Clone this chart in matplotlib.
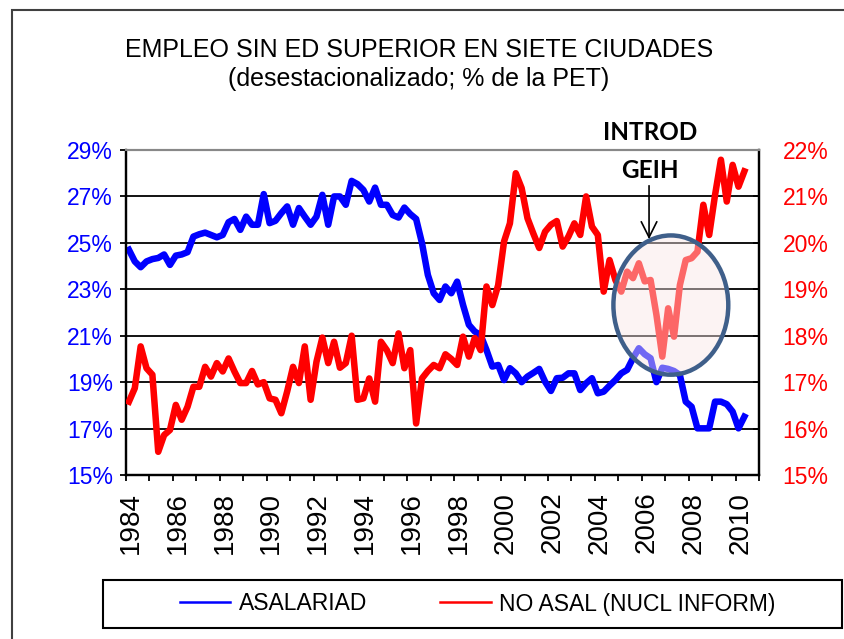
import numpy as np
import matplotlib
matplotlib.use("Agg")
import matplotlib.pyplot as plt
from matplotlib.patches import Ellipse, Rectangle
from matplotlib.lines import Line2D

plt.rcParams['font.family'] = ['Liberation Sans', 'DejaVu Sans']

# ---------------- data (quarterly, 1984Q1 .. 2010Q2) ----------------
start_year = 1984
asalariad = [
    24.7, 24.2, 23.95, 24.2, 24.3, 24.35, 24.5, 24.05, 24.45, 24.5,
    24.6, 25.27, 25.37, 25.44, 25.34, 25.24, 25.34, 25.89, 26.03, 25.56,
    26.13, 25.78, 25.78, 27.1, 25.85, 25.95, 26.28, 26.57, 25.78, 26.5,
    26.13, 25.78, 26.13, 27.07, 25.78, 27.0, 27.0, 26.64, 27.67, 27.53,
    27.28, 26.78, 27.38, 26.64, 26.64, 26.2, 26.09, 26.52, 26.24, 26.03,
    24.99, 23.62, 22.83, 22.54, 23.12, 22.83, 23.33, 22.33, 21.47, 21.18,
    21.03, 20.39, 19.67, 19.74, 19.09, 19.6, 19.38, 19.0, 19.24, 19.4,
    19.57, 19.02, 18.62, 19.17, 19.19, 19.38, 19.38, 18.66, 18.95, 19.17,
    18.52, 18.59, 18.85, 19.09, 19.38, 19.53, 20.03, 20.46, 20.2, 20.03,
    19.0, 19.62, 19.57, 19.48, 19.31, 18.16, 17.94, 17.01, 17.01, 17.01,
    18.16, 18.16, 18.05, 17.73, 17.01, 17.51]
no_asal = [
    16.58, 16.87, 17.77, 17.3, 17.16, 15.5, 15.86, 15.97, 16.51, 16.19,
    16.47, 16.9, 16.9, 17.33, 17.12, 17.41, 17.23, 17.51, 17.23, 16.98,
    16.98, 17.24, 16.95, 17.0, 16.65, 16.62, 16.33, 16.8, 17.33, 16.98,
    17.77, 16.62, 17.44, 17.96, 17.41, 17.87, 17.31, 17.41, 18.0, 16.62,
    16.65, 17.08, 16.58, 17.87, 17.69, 17.41, 18.05, 17.3, 17.69, 16.11,
    17.08, 17.24, 17.37, 17.3, 17.6, 17.5, 17.37, 17.98, 17.55, 17.95,
    17.69, 19.06, 18.66, 19.09, 20.03, 20.42, 21.5, 21.18, 20.53, 20.2,
    19.89, 20.24, 20.39, 20.47, 19.92, 20.14, 20.42, 20.17, 21.0, 20.35,
    20.17, 18.95, 19.63, 19.2, 18.95, 19.38, 19.24, 19.56, 19.17, 19.2,
    18.45, 17.55, 18.59, 17.98, 19.09, 19.63, 19.67, 19.81, 20.82, 20.17,
    21.03, 21.79, 20.89, 21.68, 21.21, 21.54]
year_labels = list(range(1984, 2011, 2))
left_ticks = list(range(15, 30, 2))
right_ticks = list(range(15, 23))
series_names = ['ASALARIAD', 'NO ASAL (NUCL INFORM)']
title_lines = ['EMPLEO SIN ED SUPERIOR EN SIETE CIUDADES',
               '(desestacionalizado; % de la PET)']

BLUE = '#0000ff'
RED = '#ff0000'

W, H = 844, 639
fig = plt.figure(figsize=(W / 100, H / 100), dpi=100)

def fx(px):
    return px / W

def fy(py):
    return 1 - py / H

ax_l, ax_r, ax_t, ax_b = 126, 759, 150, 475
ax = fig.add_axes([fx(ax_l), fy(ax_b), (ax_r - ax_l) / W, (ax_b - ax_t) / H])
ax2 = ax.twinx()

x = start_year + (np.arange(len(asalariad)) + 0.5) / 4.0

ax.plot(x, asalariad, color=BLUE, lw=4.7, solid_joinstyle='round', zorder=3)
ax2.plot(x, no_asal, color=RED, lw=4.7, solid_joinstyle='round', zorder=3)

ax.set_xlim(1984, 2011)
ax.set_ylim(15, 29)
ax2.set_ylim(15, 22)

# grid
ax.set_yticks(left_ticks)
ax.set_yticklabels([f'{v}%' for v in left_ticks], color=BLUE, fontsize=16.5)
ax.yaxis.grid(True, color='black', lw=1.3)
ax.set_axisbelow(True)
gl = ax.get_ygridlines()
gl[-1].set_color('#888888')
ax.tick_params(axis='y', direction='out', length=4.3, width=1.3, pad=5)

ax2.set_yticks(right_ticks)
ax2.set_yticklabels([f'{v}%' for v in right_ticks], color=RED, fontsize=16.5)
ax2.tick_params(axis='y', direction='in', length=4, width=1.3, pad=17)

ax.set_xticks(np.arange(1984, 2012), minor=True)
ax.set_xticks(np.array(year_labels) + 0.2)
ax.set_xticklabels([str(y) for y in year_labels], rotation=90, fontsize=20)
ax.tick_params(axis='x', which='major', length=0, pad=12)
ax.tick_params(axis='x', which='minor', direction='out', length=4.5, width=1.3)

for a in (ax, ax2):
    a.spines['left'].set_linewidth(1.6)
    a.spines['bottom'].set_linewidth(1.6)
    a.spines['right'].set_linewidth(1.6)
    a.spines['top'].set_color('#888888')
    a.spines['top'].set_linewidth(1.5)

# ellipse highlighting the GEIH introduction
ell = Ellipse((2007.24, 18.66), 4.9, 3.0, facecolor=(0.98, 0.9, 0.9, 0.45),
              edgecolor='#3f5f8a', lw=3.2, zorder=5)
ax2.add_patch(ell)
ax2.annotate('', xy=(2006.31, 20.02), xytext=(2006.31, 21.29),
             arrowprops=dict(arrowstyle='->', color='black', lw=1.2,
                             mutation_scale=28), zorder=6)
fig.text(fx(650), fy(133), 'INTROD', ha='center', va='center',
         fontsize=17.5, fontweight='bold', family=['Lato', 'DejaVu Sans'])
fig.text(fx(650), fy(171), 'GEIH', ha='center', va='center',
         fontsize=17.5, fontweight='bold', family=['Lato', 'DejaVu Sans'])

# title
fig.text(fx(419), fy(50), title_lines[0], ha='center', va='center', fontsize=18)
fig.text(fx(419), fy(79), title_lines[1], ha='center', va='center', fontsize=18)

# outer frame
fig.patches.append(Rectangle((fx(12), -0.05), 1.0, fy(10) + 0.05,
                             transform=fig.transFigure, fill=False,
                             edgecolor='#404040', lw=1.5))
# legend box
fig.patches.append(Rectangle((fx(102.7), fy(628)), (842 - 102.7) / W, 48 / H,
                             transform=fig.transFigure, fill=False,
                             edgecolor='black', lw=1.5))
handles = [Line2D([], [], color=BLUE, lw=1.8), Line2D([], [], color=RED, lw=1.8)]
fig.legend(handles, series_names, loc='center', bbox_to_anchor=(fx(477.5), fy(604)),
           ncol=2, frameon=False, fontsize=16.5, handlelength=2.2,
           handletextpad=0.35, columnspacing=3.2)

fig.savefig('out.png', dpi=100)
